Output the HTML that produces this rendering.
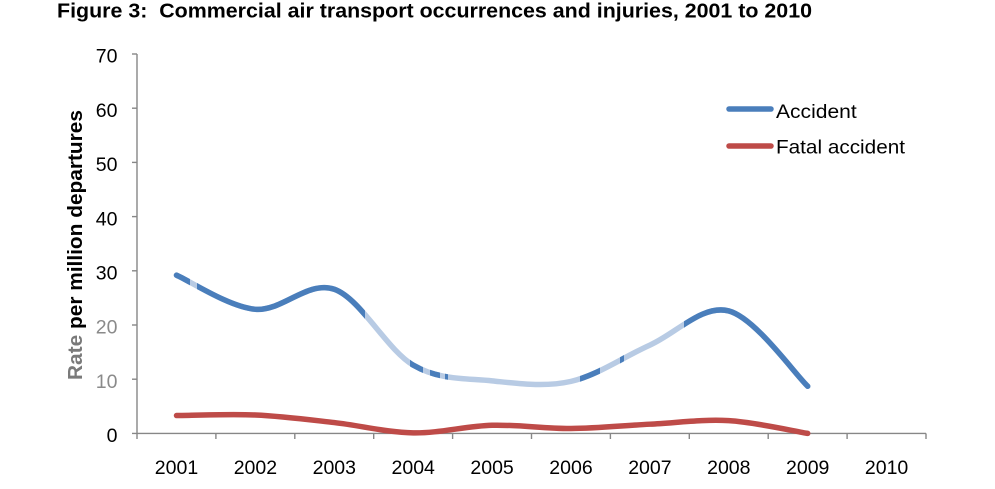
<!DOCTYPE html>
<html>
<head>
<meta charset="utf-8">
<style>
  html, body { margin: 0; padding: 0; background: #ffffff; }
  svg { display: block; }
  text { font-family: "Liberation Sans", Arial, sans-serif; }
</style>
</head>
<body>
<svg width="995" height="489" viewBox="0 0 995 489" xmlns="http://www.w3.org/2000/svg">
  <rect width="995" height="489" fill="#ffffff"/>

  <!-- Title -->
  <text x="57" y="17.5" font-size="20" font-weight="bold" fill="#000" textLength="755" lengthAdjust="spacingAndGlyphs" xml:space="preserve">Figure 3:  Commercial air transport occurrences and injuries, 2001 to 2010</text>

  <!-- Y axis label -->
  <text transform="translate(82,380) rotate(-90)" x="0" y="0" font-size="20.5" font-weight="bold" fill="#000" textLength="270" lengthAdjust="spacingAndGlyphs"><tspan fill="#7a7a7a">Rate </tspan>per million departures</text>

  <!-- Axes -->
  <g stroke="#878787" stroke-width="1.4" fill="none">
    <line x1="137" y1="54" x2="137" y2="433.4"/>
    <line x1="132" y1="433.4" x2="926" y2="433.4"/>
    <!-- y ticks -->
    <line x1="132" y1="54" x2="137" y2="54"/>
    <line x1="132" y1="108.2" x2="137" y2="108.2"/>
    <line x1="132" y1="162.4" x2="137" y2="162.4"/>
    <line x1="132" y1="216.6" x2="137" y2="216.6"/>
    <line x1="132" y1="270.8" x2="137" y2="270.8"/>
    <line x1="132" y1="325" x2="137" y2="325"/>
    <line x1="132" y1="379.2" x2="137" y2="379.2"/>
    <!-- x ticks -->
    <line x1="137" y1="433.4" x2="137" y2="439"/>
    <line x1="215.9" y1="433.4" x2="215.9" y2="439"/>
    <line x1="294.8" y1="433.4" x2="294.8" y2="439"/>
    <line x1="373.7" y1="433.4" x2="373.7" y2="439"/>
    <line x1="452.6" y1="433.4" x2="452.6" y2="439"/>
    <line x1="531.5" y1="433.4" x2="531.5" y2="439"/>
    <line x1="610.4" y1="433.4" x2="610.4" y2="439"/>
    <line x1="689.3" y1="433.4" x2="689.3" y2="439"/>
    <line x1="768.2" y1="433.4" x2="768.2" y2="439"/>
    <line x1="847.1" y1="433.4" x2="847.1" y2="439"/>
    <line x1="926" y1="433.4" x2="926" y2="439"/>
  </g>

  <!-- Y tick labels -->
  <g font-size="19.5" text-anchor="end" fill="#000">
    <text x="117.5" y="62.7">70</text>
    <text x="117.5" y="116.9">60</text>
    <text x="117.5" y="171.1">50</text>
    <text x="117.5" y="225.3">40</text>
    <text x="117.5" y="279.5">30</text>
    <text x="117.5" y="333.7" fill="#8a8a8a">20</text>
    <text x="117.5" y="387.9" fill="#8a8a8a">10</text>
    <text x="117.5" y="442.1">0</text>
  </g>

  <!-- X tick labels -->
  <g font-size="19.5" text-anchor="middle" fill="#000">
    <text x="176.5" y="474">2001</text>
    <text x="255.4" y="474">2002</text>
    <text x="334.3" y="474">2003</text>
    <text x="413.2" y="474">2004</text>
    <text x="492.1" y="474">2005</text>
    <text x="571.0" y="474">2006</text>
    <text x="649.9" y="474">2007</text>
    <text x="728.8" y="474">2008</text>
    <text x="807.7" y="474">2009</text>
    <text x="886.6" y="474">2010</text>
  </g>

  <defs>
    <clipPath id="darkclip">
      <rect x="165" y="0" width="25" height="489"/>
      <rect x="197" y="0" width="168" height="489"/>
      <rect x="410" y="0" width="13" height="489"/>
      <rect x="430" y="0" width="10" height="489"/>
      <rect x="445" y="0" width="3" height="489"/>
      <rect x="580" y="0" width="20" height="489"/>
      <rect x="620" y="0" width="4" height="489"/>
      <rect x="684" y="0" width="140" height="489"/>
    </clipPath>
  </defs>

  <!-- Accident series: light underlay -->
  <path d="M176.5,275.18 C189.65,280.87 229.1,306.96 255.4,309.31 C281.7,311.66 308.0,279.97 334.3,289.27 C360.6,298.57 386.9,349.87 413.2,365.13 C439.5,380.39 465.8,378.13 492.1,380.84 C518.4,383.55 544.7,387.34 571.0,381.38 C597.3,375.42 623.6,356.82 649.9,345.08 C676.2,333.34 702.5,304.08 728.8,310.94 C755.1,317.80 794.55,373.71 807.7,386.26"
        fill="none" stroke="#b8cbe4" stroke-width="5.5" stroke-linecap="round" stroke-linejoin="round"/>
  <!-- Accident series: dark parts -->
  <path clip-path="url(#darkclip)" d="M176.5,275.18 C189.65,280.87 229.1,306.96 255.4,309.31 C281.7,311.66 308.0,279.97 334.3,289.27 C360.6,298.57 386.9,349.87 413.2,365.13 C439.5,380.39 465.8,378.13 492.1,380.84 C518.4,383.55 544.7,387.34 571.0,381.38 C597.3,375.42 623.6,356.82 649.9,345.08 C676.2,333.34 702.5,304.08 728.8,310.94 C755.1,317.80 794.55,373.71 807.7,386.26"
        fill="none" stroke="#4a7ebb" stroke-width="5.5" stroke-linecap="round" stroke-linejoin="round"/>

  <!-- Fatal accident series -->
  <path d="M176.5,415.52 C189.65,415.43 229.1,413.81 255.4,414.98 C281.7,416.15 308.0,419.58 334.3,422.56 C360.6,425.54 386.9,432.41 413.2,432.86 C439.5,433.31 465.8,425.99 492.1,425.27 C518.4,424.55 544.7,428.70 571.0,428.52 C597.3,428.34 623.6,425.50 649.9,424.19 C676.2,422.88 702.5,419.13 728.8,420.67 C755.1,422.21 794.55,431.28 807.7,433.4"
        fill="none" stroke="#be4b48" stroke-width="5.5" stroke-linecap="round" stroke-linejoin="round"/>

  <!-- Legend -->
  <line x1="729" y1="109" x2="771" y2="109" stroke="#4a7ebb" stroke-width="5.5" stroke-linecap="round"/>
  <text x="776" y="118" font-size="19.5" fill="#000" textLength="80.7" lengthAdjust="spacingAndGlyphs">Accident</text>
  <line x1="729" y1="146" x2="771" y2="146" stroke="#be4b48" stroke-width="5.5" stroke-linecap="round"/>
  <text x="776" y="153.3" font-size="19.5" fill="#000" textLength="129" lengthAdjust="spacingAndGlyphs">Fatal accident</text>
</svg>
</body>
</html>
